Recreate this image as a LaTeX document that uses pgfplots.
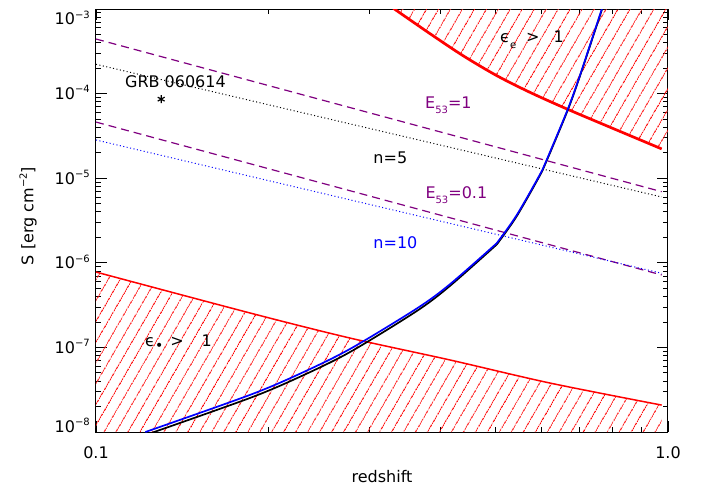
\documentclass[border=0pt]{standalone}
\usepackage{fontspec}
\setmainfont{DejaVu Sans}
\usepackage{pgfplots}
\pgfplotsset{compat=1.18}
\usetikzlibrary{patterns.meta}
\definecolor{idlpurple}{RGB}{128,0,128}
\newcommand\ex[1]{\raisebox{6.5bp}{\fontsize{10bp}{10bp}\selectfont #1}}
\newcommand\sub[1]{\raisebox{-5.5bp}{\fontsize{10bp}{10bp}\selectfont #1}}
\begin{document}
\begin{tikzpicture}[font=\fontsize{16bp}{19bp}\selectfont]
\useasboundingbox (0,0) rectangle (703bp,487bp);
\begin{axis}[
  at={(96bp,55bp)}, anchor=south west,
  scale only axis, width=572bp, height=423bp,
  xmode=log, ymode=log,
  xmin=0.1, xmax=1, ymin=1e-8, ymax=1e-3,
  xtick={0.1,1}, xticklabels={0.1,1.0},
  minor xtick={0.2,0.3,0.4,0.5,0.6,0.7,0.8,0.9},
  ytick={1e-8,1e-7,1e-6,1e-5,1e-4,1e-3},
  yticklabels={\raisebox{5.8bp}{10\ex{−8}},10\ex{−7},10\ex{−6},10\ex{−5},10\ex{−4},\raisebox{-10bp}{10\ex{−3}}},
  minor ytick={2e-8,3e-8,4e-8,5e-8,6e-8,7e-8,8e-8,9e-8,
               2e-7,3e-7,4e-7,5e-7,6e-7,7e-7,8e-7,9e-7,
               2e-6,3e-6,4e-6,5e-6,6e-6,7e-6,8e-6,9e-6,
               2e-5,3e-5,4e-5,5e-5,6e-5,7e-5,8e-5,9e-5,
               2e-4,3e-4,4e-4,5e-4,6e-4,7e-4,8e-4,9e-4},
  major tick length=11bp, minor tick length=5bp,
  tick style={black, line width=0.8bp},
  axis line style={line width=1bp},
  xticklabel style={anchor=base, inner sep=0pt, yshift=-26bp},
  yticklabel style={anchor=base east, inner sep=0pt, xshift=-6bp, yshift=-5.8bp},
  xlabel={redshift}, ylabel={S [erg cm\ex{−2}]},
  xlabel style={at={(axis description cs:0.5,0)}, anchor=base, yshift=-50bp},
  ylabel style={at={(axis description cs:-0.1189,0.5106)}, anchor=center},
]
% hatched regions
\addplot[draw=none, pattern={Lines[angle=60,distance=10bp,line width=0.9bp]}, pattern color=red]
  coordinates {(0.1,7.78e-7) (0.186,2.55e-7) (0.278,1.29e-7) (0.416,7.10e-8) (0.622,3.79e-8) (0.975,2.08e-8) (0.975,1e-8) (0.1,1e-8)} -- cycle;
\addplot[draw=none, pattern={Lines[angle=60,distance=10bp,line width=0.9bp]}, pattern color=red]
  coordinates {(0.331,1.02e-3) (0.3837,5.11e-4) (0.4385,2.80e-4) (0.5017,1.634e-4) (0.5736,1.036e-4) (0.6693,6.48e-5) (0.8024,3.86e-5) (0.975,2.22e-5) (1.0,2.17e-5) (1.0,1.02e-3)} -- cycle;
% red boundaries
\addplot[red, line width=1.5bp, smooth] coordinates {(0.1,7.78e-7) (0.186,2.55e-7) (0.278,1.29e-7) (0.416,7.10e-8) (0.622,3.79e-8) (0.975,2.08e-8)};
\addplot[red, line width=2.7bp, smooth] coordinates {(0.331,1.02e-3) (0.3837,5.11e-4) (0.4385,2.80e-4) (0.5017,1.634e-4) (0.5736,1.036e-4) (0.6693,6.48e-5) (0.8024,3.86e-5) (0.975,2.22e-5)};
% E53 dashed
\addplot[idlpurple, line width=1.2bp, dash pattern=on 8bp off 5bp] coordinates {(0.1,4.42e-4) (0.975,6.93e-6)};
\addplot[idlpurple, line width=1.2bp, dash pattern=on 8bp off 5bp] coordinates {(0.1,4.61e-5) (0.975,7.18e-7)};
% n dotted
\addplot[black, line width=1bp, dash pattern=on 1bp off 2.5bp] coordinates {(0.1,2.22e-4) (0.975,6.0e-6)};
\addplot[blue, line width=1bp, dash pattern=on 1bp off 2.5bp] coordinates {(0.1,2.83e-5) (0.975,7.52e-7)};
% black and blue curves
\addplot[black, line width=1.7bp, smooth] coordinates {(0.122,9.2e-9) (0.186,2.53e-8) (0.2275,4.51e-8) (0.278,8.81e-8) (0.364,2.70e-7) (0.416,5.35e-7) (0.502,1.648e-6)};
\addplot[black, line width=1.7bp, smooth] coordinates {(0.502,1.648e-6) (0.544,3.56e-6) (0.603,1.22e-5) (0.622,1.99e-5) (0.669,6.55e-5) (0.702,1.63e-4) (0.768,1.02e-3)};
\addplot[blue, line width=1.7bp, smooth] coordinates {(0.122,1e-8) (0.186,2.75e-8) (0.2275,4.90e-8) (0.278,9.58e-8) (0.364,2.89e-7) (0.416,5.60e-7) (0.502,1.706e-6)};
\addplot[blue, line width=1.7bp, smooth] coordinates {(0.502,1.706e-6) (0.544,3.67e-6) (0.603,1.25e-5) (0.622,2.04e-5) (0.669,6.70e-5) (0.702,1.66e-4) (0.767,1.02e-3)};
% GRB point
\addplot[black, only marks, mark=asterisk, mark size=4bp, mark options={line width=1.2bp}] coordinates {(0.13,8.6e-5)};
% labels
\node[anchor=center] at (axis cs:0.1377,1.37e-4) {GRB 060614};
\node[anchor=base west, text=idlpurple] at (axis cs:0.371,6.7e-5) {E\sub{53}=1};
\node[anchor=base west, text=idlpurple] at (axis cs:0.3715,5.79e-6) {E\sub{53}=0.1};
\node[anchor=base west, text=black] at (axis cs:0.3013,1.50e-5) {n=5};
\node[anchor=base west, text=blue] at (axis cs:0.3013,1.48e-6) {n=10};
\node[anchor=base west] at (axis cs:0.5017,4.0e-4) {ϵ\sub{e}\hspace{10bp}>\hspace{14bp}1};
\node[anchor=base west] at (axis cs:0.1202,1.02e-7) {ϵ\raisebox{-4bp}{\fontsize{14bp}{14bp}\selectfont•}\hspace{7bp}>\hspace{18bp}1};
\end{axis}
\end{tikzpicture}
\end{document}
